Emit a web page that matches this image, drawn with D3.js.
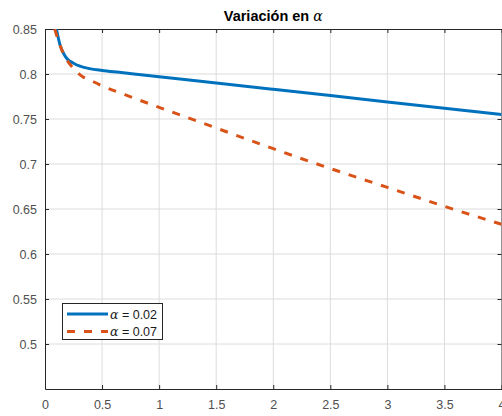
<!DOCTYPE html>
<html>
<head>
<meta charset="utf-8">
<script src="https://cdn.jsdelivr.net/npm/d3@7"></script>
<style>
  html, body { margin: 0; padding: 0; background: #fff; }
  svg { display: block; }
  .tick text { font-family: 'Liberation Sans', Arial, sans-serif; font-size: 12.5px; fill: #505050; }
</style>
</head>
<body>
<svg id="chart" width="502" height="416"></svg>
<script>
// values
const tBlue  = [0.1, 0.13, 0.17, 0.2, 0.25, 0.3, 0.39, 0.5, 0.65, 0.8, 1.0, 1.5, 2.0, 2.5, 3.0, 3.5, 4.0];
const vBlue  = [0.85, 0.833, 0.821, 0.816, 0.812, 0.809, 0.806, 0.804, 0.8019, 0.7998, 0.797, 0.790, 0.783, 0.776, 0.769, 0.762, 0.755];
const tOrange = [0.085, 0.12, 0.15, 0.19, 0.23, 0.28, 0.33, 0.4, 0.48, 0.7, 1.0, 1.5, 2.0, 2.5, 3.0, 3.5, 4.0];
const vOrange = [0.85, 0.836, 0.826, 0.816, 0.809, 0.802, 0.797, 0.793, 0.788, 0.777, 0.763, 0.740, 0.717, 0.695, 0.674, 0.653, 0.633];
const xTicks = [0, 0.5, 1, 1.5, 2, 2.5, 3, 3.5, 4];
const yTicks = [0.5, 0.55, 0.6, 0.65, 0.7, 0.75, 0.8, 0.85];
const seriesNames = ['0.02', '0.07'];
const seriesColors = ['#0072BD', '#D95319'];

const L = 45, R = 501.5, T = 29, B = 389;
const svg = d3.select('#chart');

const x = d3.scaleLinear().domain([0, 4]).range([L, R]);
const y = d3.scaleLinear().domain([0.45, 0.85]).range([B, T]);

// grid
svg.append('g').selectAll('line').data(xTicks.slice(1, -1)).join('line')
  .attr('x1', d => x(d)).attr('x2', d => x(d)).attr('y1', T).attr('y2', B)
  .attr('stroke', '#dcdcdc').attr('stroke-width', 1);
svg.append('g').selectAll('line').data(yTicks.slice(0, -1)).join('line')
  .attr('y1', d => y(d)).attr('y2', d => y(d)).attr('x1', L).attr('x2', R)
  .attr('stroke', '#dcdcdc').attr('stroke-width', 1);

// axes (ticks inward, box on)
const fmt = d => String(d);
svg.append('g').attr('transform', `translate(0,${B})`)
  .call(d3.axisBottom(x).tickValues(xTicks).tickFormat(fmt).tickSizeInner(-4).tickSizeOuter(0).tickPadding(11));
svg.append('g').attr('transform', `translate(${L},0)`)
  .call(d3.axisLeft(y).tickValues(yTicks).tickFormat(fmt).tickSizeInner(-4).tickSizeOuter(0).tickPadding(8));
svg.append('g').attr('transform', `translate(0,${T})`)
  .call(d3.axisTop(x).tickValues(xTicks).tickFormat('').tickSizeInner(-4).tickSizeOuter(0));
svg.append('g').attr('transform', `translate(${R},0)`)
  .call(d3.axisRight(y).tickValues(yTicks).tickFormat('').tickSizeInner(-4).tickSizeOuter(0));
svg.selectAll('.domain').attr('stroke', '#262626');
svg.selectAll('.tick line').attr('stroke', '#262626');

// lines
svg.append('clipPath').attr('id', 'clip').append('rect')
  .attr('x', L).attr('y', T).attr('width', R - L).attr('height', B - T);
const line = d3.line().x(d => x(d[0])).y(d => y(d[1])).curve(d3.curveMonotoneX);
const plot = svg.append('g').attr('clip-path', 'url(#clip)');
plot.append('path').datum(d3.zip(tBlue, vBlue)).attr('d', line)
  .attr('fill', 'none').attr('stroke', seriesColors[0]).attr('stroke-width', 3);
plot.append('path').datum(d3.zip(tOrange, vOrange)).attr('d', line)
  .attr('fill', 'none').attr('stroke', seriesColors[1]).attr('stroke-width', 3)
  .attr('stroke-dasharray', '8,9');

// title
const title = svg.append('text').attr('x', (L + R) / 2).attr('y', 21)
  .attr('text-anchor', 'middle')
  .attr('font-family', "'Liberation Sans', Arial, sans-serif").attr('font-size', 14.5).attr('font-weight', 'bold')
  .attr('fill', '#000');
title.append('tspan').text('Variación en ');
title.append('tspan').text('α').attr('font-family', "'DejaVu Serif', serif")
  .attr('font-style', 'italic').attr('font-weight', 'normal').attr('font-size', 14);

// legend
const lg = svg.append('g');
lg.append('rect').attr('x', 62.5).attr('y', 303.5).attr('width', 100).attr('height', 36)
  .attr('fill', '#fff').attr('stroke', '#262626').attr('stroke-width', 1);
seriesNames.forEach((n, i) => {
  const yy = 314 + i * 17.5;
  lg.append('line').attr('x1', 67).attr('x2', 108).attr('y1', yy).attr('y2', yy)
    .attr('stroke', seriesColors[i]).attr('stroke-width', 3)
    .attr('stroke-dasharray', i ? '8,9' : null);
  const t = lg.append('text').attr('x', 110).attr('y', yy + 4.5)
    .attr('font-family', "'Liberation Sans', Arial, sans-serif").attr('font-size', 12.5).attr('fill', '#1a1a1a');
  t.append('tspan').text('α').attr('font-family', "'DejaVu Serif', serif").attr('font-style', 'italic');
  t.append('tspan').text(' = ' + n);
});
</script>
</body>
</html>
